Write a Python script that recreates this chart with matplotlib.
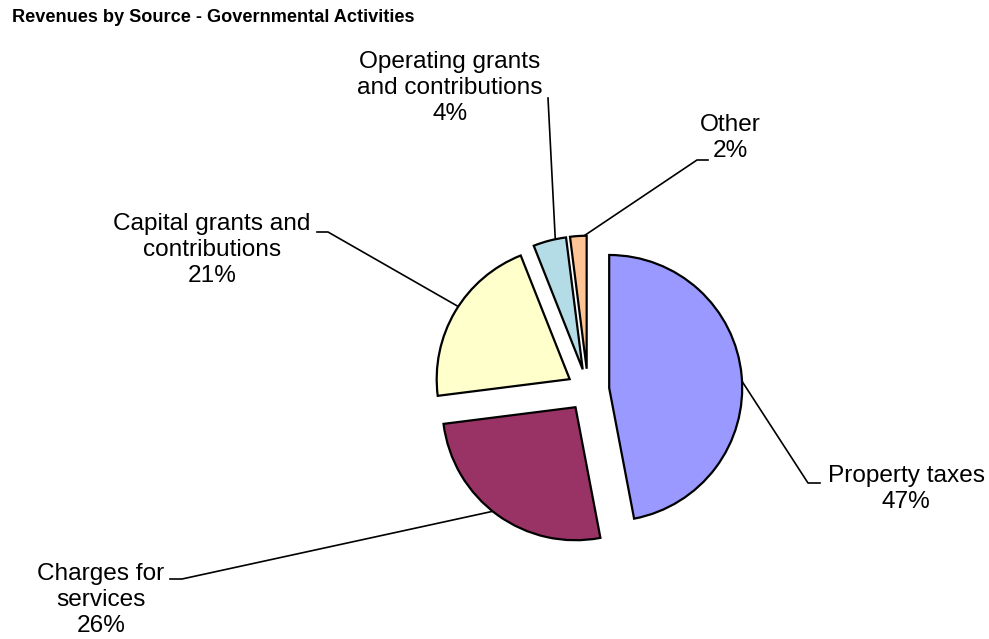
import numpy as np
import matplotlib
matplotlib.use("Agg")
import matplotlib.pyplot as plt

plt.rcParams['font.family'] = ['Liberation Sans', 'DejaVu Sans']

# data
sources = ["Property taxes", "Charges for services", "Capital grants and contributions",
           "Operating grants and contributions", "Other"]
shares = [47, 26, 21, 4, 2]
label_texts = ["Property taxes\n47%", "Charges for\nservices\n26%",
               "Capital grants and\ncontributions\n21%",
               "Operating grants\nand contributions\n4%", "Other\n2%"]
colors = ["#9999FF", "#993366", "#FFFFCC", "#B4DCE6", "#FFC494"]

# layout (pixels of the 989x639 picture)
CX, CY, R_PX = 588, 390, 133
label_centers = [(906, 489), (101, 600), (212, 250), (450, 88), (730, 138)]
leader_starts = [(820, 483), (170, 579), (317, 232), (548, 98), (708, 160)]
elbow_len = [-12, 12, 11, 0, -11]


def px(x, y):
    return (x - CX) / R_PX, (CY - y) / R_PX


fig = plt.figure(figsize=(9.89, 6.39), dpi=100)
ax = fig.add_axes([0, 0, 1, 1])

wedges, _ = ax.pie(shares, colors=colors, startangle=90, counterclock=False,
                   explode=[0.16] * len(shares),
                   wedgeprops=dict(edgecolor='black', linewidth=1.6, joinstyle='miter'))

ax.set_xlim(-CX / R_PX, (989 - CX) / R_PX)
ax.set_ylim(-(639 - CY) / R_PX, CY / R_PX)
ax.set_aspect('equal')
ax.axis('off')

for w, txt, c, s, e in zip(wedges, label_texts, label_centers, leader_starts, elbow_len):
    # point on the outer arc, a little past the wedge's middle angle
    mid = np.deg2rad((w.theta1 + w.theta2) / 2 - 2.5)
    tx = w.center[0] + w.r * np.cos(mid)
    ty = w.center[1] + w.r * np.sin(mid)
    x0, y0 = px(*s)
    x1, y1 = px(s[0] + e, s[1])
    ax.plot([x0, x1, tx], [y0, y1, ty], color='black', lw=1.2, zorder=0.5)
    lx, ly = px(*c)
    ax.text(lx, ly, txt, ha='center', va='center', fontsize=17.6,
            linespacing=1.25, multialignment='center')

fig.text(12 / 989, 1 - 18 / 639, "Revenues by Source - Governmental Activities",
         fontsize=13.1, fontweight='bold', ha='left', va='center')

fig.savefig("out.png", dpi=100)
